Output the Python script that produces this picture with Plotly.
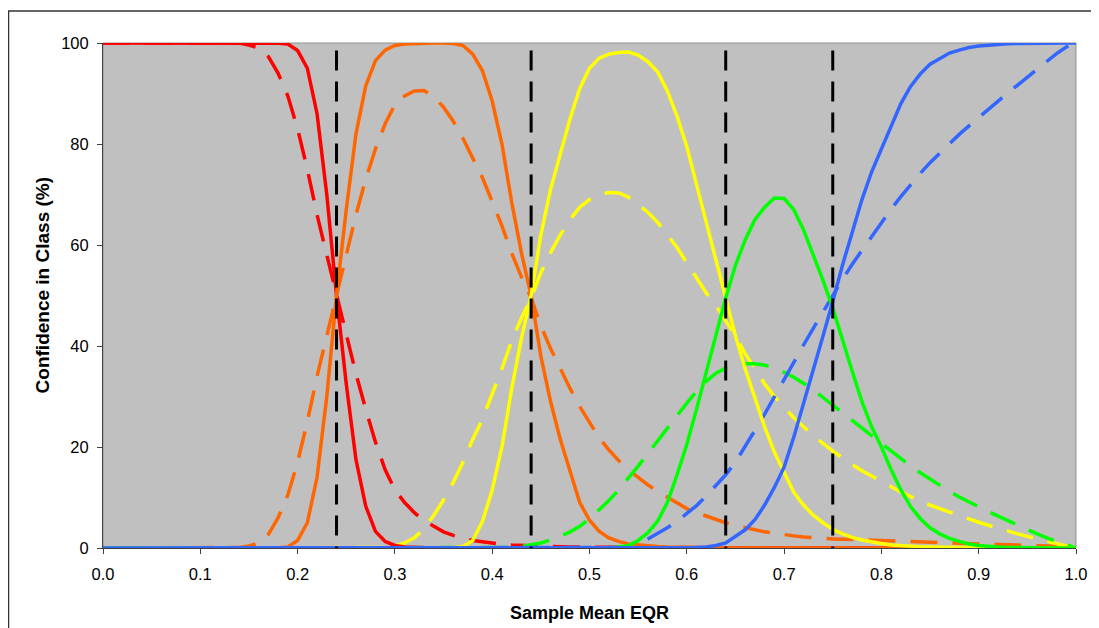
import plotly.graph_objects as go

# Sample Mean EQR grid (0.00 .. 1.00 step 0.01)
eqr = [
    0.00, 0.01, 0.02, 0.03, 0.04, 0.05, 0.06, 0.07, 0.08, 0.09,
    0.10, 0.11, 0.12, 0.13, 0.14, 0.15, 0.16, 0.17, 0.18, 0.19,
    0.20, 0.21, 0.22, 0.23, 0.24, 0.25, 0.26, 0.27, 0.28, 0.29,
    0.30, 0.31, 0.32, 0.33, 0.34, 0.35, 0.36, 0.37, 0.38, 0.39,
    0.40, 0.41, 0.42, 0.43, 0.44, 0.45, 0.46, 0.47, 0.48, 0.49,
    0.50, 0.51, 0.52, 0.53, 0.54, 0.55, 0.56, 0.57, 0.58, 0.59,
    0.60, 0.61, 0.62, 0.63, 0.64, 0.65, 0.66, 0.67, 0.68, 0.69,
    0.70, 0.71, 0.72, 0.73, 0.74, 0.75, 0.76, 0.77, 0.78, 0.79,
    0.80, 0.81, 0.82, 0.83, 0.84, 0.85, 0.86, 0.87, 0.88, 0.89,
    0.90, 0.91, 0.92, 0.93, 0.94, 0.95, 0.96, 0.97, 0.98, 0.99,
    1.00,
]

# Solid curves (confidence in class, %)
red_solid = [
    100, 100, 100, 100, 100, 100, 100, 100, 100, 100,
    100, 100, 100, 100, 100, 100, 100, 100, 99.95, 99.8,
    98.5, 95, 86, 70, 50, 32.5, 17.5, 8.3, 3.3, 1.3,
    0.5, 0.2, 0.1, 0, 0, 0, 0, 0, 0, 0,
    0, 0, 0, 0, 0, 0, 0, 0, 0, 0,
    0, 0, 0, 0, 0, 0, 0, 0, 0, 0,
    0, 0, 0, 0, 0, 0, 0, 0, 0, 0,
    0, 0, 0, 0, 0, 0, 0, 0, 0, 0,
    0, 0, 0, 0, 0, 0, 0, 0, 0, 0,
    0, 0, 0, 0, 0, 0, 0, 0, 0, 0,
    0,
]
orange_solid = [
    0, 0, 0, 0, 0, 0, 0, 0, 0, 0,
    0, 0, 0, 0, 0, 0, 0, 0, 0.05, 0.2,
    1.5, 5, 14, 30, 50, 67, 82, 91.5, 96.5, 98.6,
    99.5, 99.8, 99.9, 100, 100, 100, 99.9, 99.5, 97.8, 94.5,
    88.5, 80, 68.5, 58.5, 50, 38, 29, 21.5, 15, 9,
    5.5, 3.3, 2, 1.3, 0.8, 0.6, 0.4, 0.3, 0.2, 0.15,
    0.1, 0.1, 0.05, 0, 0, 0, 0, 0, 0, 0,
    0, 0, 0, 0, 0, 0, 0, 0, 0, 0,
    0, 0, 0, 0, 0, 0, 0, 0, 0, 0,
    0, 0, 0, 0, 0, 0, 0, 0, 0, 0,
    0,
]
yellow_solid = [
    0, 0, 0, 0, 0, 0, 0, 0, 0, 0,
    0, 0, 0, 0, 0, 0, 0, 0, 0, 0,
    0, 0, 0, 0, 0, 0, 0, 0, 0, 0,
    0, 0, 0, 0, 0, 0, 0.05, 0.3, 1.5, 5.3,
    11.5, 20, 31.5, 41.5, 50, 62, 71, 78, 85, 91,
    95, 97, 97.8, 98.1, 98.2, 97.6, 96.3, 94.3, 90.5, 85.5,
    79.5, 72, 64.5, 57, 49.5, 42, 35.5, 29.5, 24, 19,
    14.8, 11, 8.5, 6.5, 5, 3.7, 2.8, 2.1, 1.6, 1.2,
    0.9, 0.6, 0.45, 0.35, 0.25, 0.2, 0.15, 0.1, 0.08, 0.06,
    0.05, 0.04, 0.03, 0.02, 0.02, 0.01, 0, 0, 0, 0,
    0,
]
green_solid = [
    0, 0, 0, 0, 0, 0, 0, 0, 0, 0,
    0, 0, 0, 0, 0, 0, 0, 0, 0, 0,
    0, 0, 0, 0, 0, 0, 0, 0, 0, 0,
    0, 0, 0, 0, 0, 0, 0, 0, 0, 0,
    0, 0, 0, 0, 0, 0, 0, 0, 0, 0,
    0, 0, 0, 0.2, 0.5, 1.5, 3, 5.3, 9, 14.5,
    20.5, 27.5, 35, 42.5, 49.5, 56, 61, 65, 67.5, 69.3,
    69.2, 67, 63, 58, 53, 47.5, 41, 35, 29, 24,
    20, 15.5, 11.5, 8.2, 5.8, 4, 2.8, 1.9, 1.3, 0.8,
    0.5, 0.3, 0.2, 0.1, 0.05, 0, 0, 0, 0, 0,
    0,
]
blue_solid = [
    0, 0, 0, 0, 0, 0, 0, 0, 0, 0,
    0, 0, 0, 0, 0, 0, 0, 0, 0, 0,
    0, 0, 0, 0, 0, 0, 0, 0, 0, 0,
    0, 0, 0, 0, 0, 0, 0, 0, 0, 0,
    0, 0, 0, 0, 0, 0, 0, 0, 0, 0,
    0, 0, 0, 0, 0, 0, 0, 0, 0, 0,
    0.05, 0.1, 0.2, 0.5, 1, 2.2, 3.6, 5.6, 8.5, 12,
    16, 22, 28.5, 35.5, 42, 48.8, 56, 62.5, 69, 74.5,
    79, 83.8, 88, 91.4, 93.9, 95.8, 97, 98, 98.6, 99.1,
    99.4, 99.6, 99.75, 99.85, 99.9, 99.95, 100, 100, 100, 100,
    100,
]

# Dashed curves
red_dashed = [
    100, 100, 100, 100, 100, 100, 100, 100, 100, 100,
    100, 100, 100, 100, 100, 99.6, 99, 97.3, 94, 89.5,
    83, 75, 66, 58, 50, 42.5, 34.5, 27.5, 21, 15.5,
    11.5, 9, 7, 5.4, 4.2, 3.2, 2.5, 1.9, 1.5, 1.2,
    0.9, 0.75, 0.6, 0.5, 0.4, 0.35, 0.3, 0.25, 0.2, 0.18,
    0.15, 0.13, 0.11, 0.1, 0.09, 0.08, 0.07, 0.06, 0.05, 0.05,
    0.04, 0.04, 0.03, 0.03, 0.03, 0.02, 0.02, 0.02, 0.02, 0.01,
    0, 0, 0, 0, 0, 0, 0, 0, 0, 0,
    0, 0, 0, 0, 0, 0, 0, 0, 0, 0,
    0, 0, 0, 0, 0, 0, 0, 0, 0, 0,
    0,
]
orange_dashed = [
    0, 0, 0, 0, 0, 0, 0, 0, 0, 0,
    0, 0, 0, 0, 0.1, 0.4, 1, 2.7, 6, 10.5,
    17, 25, 34, 42, 50, 57.5, 66, 73, 79, 84,
    87.8, 89.5, 90.5, 90.6, 89.3, 87.3, 84.5, 81.1, 77, 73.3,
    68.6, 63.8, 58.4, 53.7, 49.5, 44, 39.5, 35.5, 31.6, 28,
    24.8, 21.8, 19.4, 17.3, 15.5, 13.9, 12.5, 11.2, 10, 9,
    7.8, 7, 6.3, 5.6, 5, 4.5, 4, 3.6, 3.2, 2.9,
    2.6, 2.4, 2.2, 2.0, 1.9, 1.8, 1.7, 1.65, 1.6, 1.55,
    1.5, 1.4, 1.3, 1.25, 1.2, 1.1, 1.05, 1, 0.9, 0.85,
    0.8, 0.75, 0.7, 0.6, 0.55, 0.5, 0.45, 0.4, 0.3, 0.25,
    0.2,
]
yellow_dashed = [
    0, 0, 0, 0, 0, 0, 0, 0, 0, 0,
    0, 0, 0, 0, 0, 0, 0, 0, 0, 0,
    0, 0, 0, 0, 0, 0, 0, 0, 0, 0.1,
    0.4, 1, 2, 3.8, 6.5, 9.5, 13, 17, 21.5, 25.5,
    30.5, 35.5, 41, 45.5, 49.5, 54.5, 58.5, 62, 65, 67.5,
    69, 70, 70.4, 70.3, 69.5, 68, 66.5, 64.5, 62, 59.5,
    56.5, 53.5, 50.5, 48, 45, 42, 38.5, 35.5, 32.5, 30,
    27.8, 25.8, 24, 22.3, 20.7, 19.2, 17.8, 16.5, 15.3, 14.2,
    13.1, 12.1, 11.1, 10.2, 9.3, 8.5, 7.8, 7.1, 6.4, 5.8,
    5.1, 4.5, 3.9, 3.3, 2.8, 2.3, 1.8, 1.3, 0.8, 0.4,
    0,
]
green_dashed = [
    0, 0, 0, 0, 0, 0, 0, 0, 0, 0,
    0, 0, 0, 0, 0, 0, 0, 0, 0, 0,
    0, 0, 0, 0, 0, 0, 0, 0, 0, 0,
    0, 0, 0, 0, 0, 0, 0, 0, 0, 0,
    0, 0.05, 0.1, 0.3, 0.6, 1, 1.6, 2.3, 3.2, 4.3,
    5.8, 7.5, 9.4, 11.5, 13.8, 16.2, 18.7, 21.2, 23.8, 26.3,
    28.7, 31, 33, 34.6, 35.6, 36.2, 36.5, 36.5, 36.2, 35.6,
    34.8, 33.8, 32.6, 31.4, 29.8, 28.3, 26.8, 25.2, 23.6, 22.1,
    20.6, 19.1, 17.6, 16.2, 14.9, 13.6, 12.4, 11.2, 10.1, 9.1,
    8.1, 7.2, 6.3, 5.4, 4.5, 3.6, 2.8, 2.0, 1.3, 0.6,
    0,
]
blue_dashed = [
    0, 0, 0, 0, 0, 0, 0, 0, 0, 0,
    0, 0, 0, 0, 0, 0, 0, 0, 0, 0,
    0, 0, 0, 0, 0, 0, 0, 0, 0, 0,
    0, 0, 0, 0, 0, 0, 0, 0, 0, 0,
    0, 0, 0, 0, 0, 0, 0, 0, 0, 0,
    0, 0, 0, 0.1, 0.3, 0.9, 1.8, 2.9, 4, 5.3,
    6.8, 8.4, 10.3, 12.3, 14.5, 17, 20, 23.3, 26.5, 30,
    33.3, 36.8, 40.2, 43.5, 46.8, 50, 53.2, 56.2, 59, 61.8,
    64.5, 67.1, 69.6, 72, 74.2, 76.3, 78.2, 80.1, 81.9, 83.6,
    85.3, 86.9, 88.5, 90.1, 91.7, 93.3, 94.8, 96.3, 97.9, 99.2,
    100,
]

# Class boundaries (vertical dashed markers)
boundaries = [0.24, 0.44, 0.64, 0.75]
boundary_top = 98.5

x_ticks = [0.0, 0.1, 0.2, 0.3, 0.4, 0.5, 0.6, 0.7, 0.8, 0.9, 1.0]
y_ticks = [0, 20, 40, 60, 80, 100]

RED, ORANGE, YELLOW, GREEN, BLUE = "#FF0000", "#FF6600", "#FFFF00", "#00FF00", "#3366FF"

fig = go.Figure()

dashed = [(red_dashed, RED), (orange_dashed, ORANGE), (yellow_dashed, YELLOW),
          (green_dashed, GREEN), (blue_dashed, BLUE)]
solid = [(red_solid, RED), (orange_solid, ORANGE), (yellow_solid, YELLOW),
         (green_solid, GREEN), (blue_solid, BLUE)]

for vals, col in dashed:
    fig.add_trace(go.Scatter(x=eqr, y=vals, mode="lines", cliponaxis=False,
                             line=dict(color=col, width=3.5, dash="27px,15px"),
                             hoverinfo="skip"))
for vals, col in solid:
    fig.add_trace(go.Scatter(x=eqr, y=vals, mode="lines", cliponaxis=False,
                             line=dict(color=col, width=3.5),
                             hoverinfo="skip"))
for b in boundaries:
    fig.add_trace(go.Scatter(x=[b, b], y=[boundary_top, 0], mode="lines",
                             cliponaxis=False,
                             line=dict(color="#000000", width=3, dash="20px,11px"),
                             hoverinfo="skip"))

FONT = "Arial, Liberation Sans, sans-serif"

# The page body adds an 8px offset; figure sized so the plot lands where the reference has it
W, H = 1083, 620
ML, MT, MR, MB = 95, 35, 15, 80
PW = W - ML - MR
PH = H - MT - MB

fig.update_layout(
    width=W, height=H,
    margin=dict(l=ML, r=MR, t=MT, b=MB, autoexpand=False),
    paper_bgcolor="#FFFFFF",
    plot_bgcolor="#C0C0C0",
    showlegend=False,
    font=dict(family=FONT, size=16, color="#000000"),
    xaxis=dict(range=[0, 1], tickvals=x_ticks, tickformat=".1f",
               ticks="outside", ticklen=5, tickcolor="#404040",
               showline=True, linecolor="#404040", linewidth=1,
               showgrid=False, zeroline=False, ticklabelstandoff=6,
               automargin=False,
               tickfont=dict(size=16.5, family=FONT)),
    yaxis=dict(range=[0, 100], tickvals=y_ticks,
               ticks="outside", ticklen=5, tickcolor="#404040",
               showline=True, linecolor="#404040", linewidth=1,
               showgrid=False, zeroline=False, ticklabelstandoff=5,
               automargin=False,
               tickfont=dict(size=16.5, family=FONT)),
    shapes=[
        dict(type="rect", xref="paper", yref="paper", x0=0, x1=1, y0=0, y1=1,
             line=dict(color="#909090", width=1), layer="below"),
        dict(type="rect", xref="paper", yref="paper",
             x0=(0.5 - ML) / PW, x1=(W + 20 - ML) / PW,
             y0=-(MB + 20) / PH, y1=(PH + MT - 3) / PH,
             line=dict(color="#333333", width=1.5)),
    ],
    annotations=[
        dict(text="<b>Sample Mean EQR</b>", xref="paper", yref="paper",
             x=0.5, y=-65 / PH, xanchor="center", yanchor="middle",
             showarrow=False, font=dict(size=18, family=FONT, color="#000000")),
        dict(text="<b>Confidence in Class (%)</b>", xref="paper", yref="paper",
             x=-61 / PW, y=0.52, xanchor="center", yanchor="middle",
             textangle=-90, showarrow=False,
             font=dict(size=19, family=FONT, color="#000000")),
    ],
)

fig.write_html("out.html")
